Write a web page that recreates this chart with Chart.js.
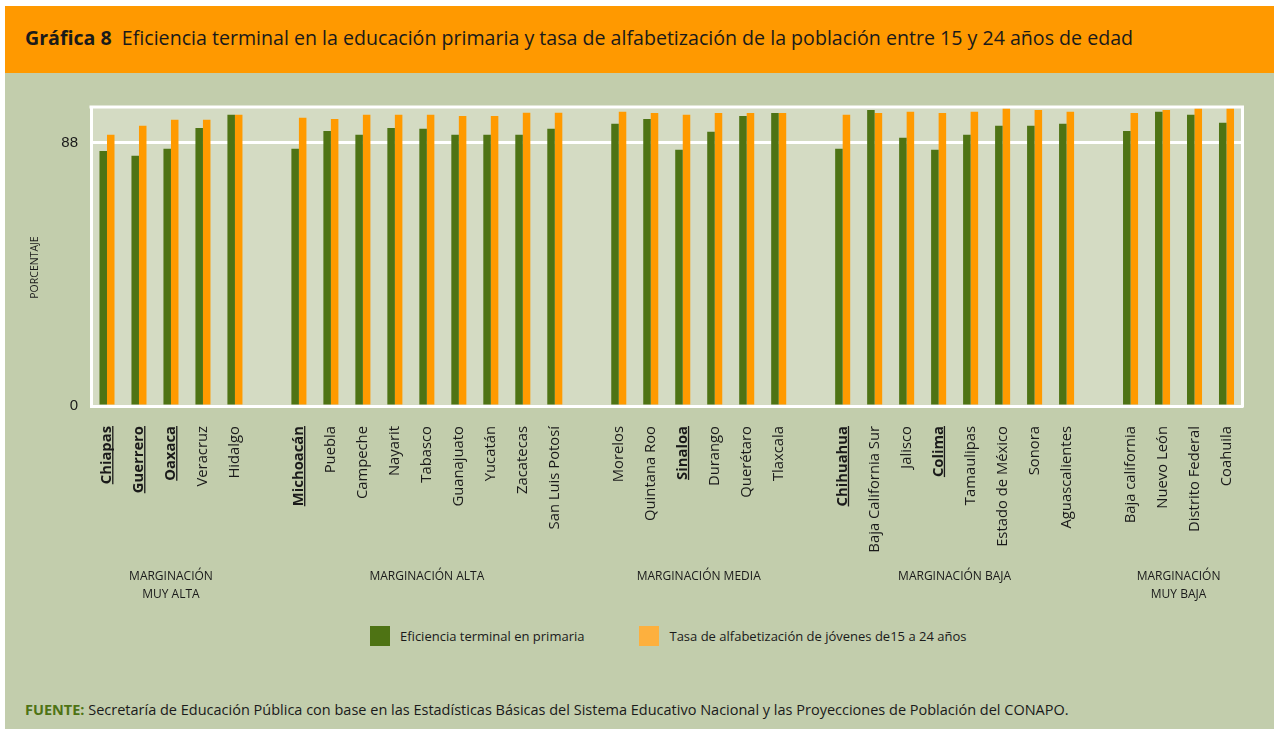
<!DOCTYPE html>
<html>
<head>
<meta charset="utf-8">
<script src="https://cdn.jsdelivr.net/npm/chart.js@4.4.1/dist/chart.umd.min.js"></script>
<style>
html,body{margin:0;padding:0;background:#fff;width:1274px;height:729px;overflow:hidden;font-family:'Open Sans',sans-serif;color:#1a1a1a;}
#bar{position:absolute;left:5px;top:6px;width:1269px;height:67px;background:#ff9900;}
#bar span{position:absolute;left:20px;top:20px;font-size:19.6px;white-space:nowrap;line-height:24px;}
#bar b{font-weight:bold;}
#panel{position:absolute;left:5px;top:73px;width:1269px;height:656px;background:#c2cdac;}
#wrap{position:absolute;left:5px;top:73px;width:1269px;height:540px;}
#legend{position:absolute;top:626px;left:370px;height:20px;white-space:nowrap;font-size:13px;}
#legend .it{display:inline-block;position:relative;height:20px;line-height:20px;vertical-align:top;}
#legend .sw{display:inline-block;width:20px;height:20px;vertical-align:top;margin-right:10px;}
#src{position:absolute;left:25px;top:700px;font-size:14.5px;white-space:nowrap;}
#src b{color:#4e7314;}
</style>
</head>
<body>
<div id="bar"><span><b>Gráfica 8</b>&nbsp; Eficiencia terminal en la educación primaria y tasa de alfabetización de la población entre 15 y 24 años de edad</span></div>
<div id="panel"></div>
<div id="wrap"><canvas id="c" width="1269" height="540"></canvas></div>
<div id="legend"></div>
<div id="src"><b>FUENTE:</b> Secretaría de Educación Pública con base en las Estadísticas Básicas del Sistema Educativo Nacional y las Proyecciones de Población del CONAPO.</div>
<script>
// ---- data ----
const states = ['Chiapas','Guerrero','Oaxaca','Veracruz','Hidalgo','',
  'Michoacán','Puebla','Campeche','Nayarit','Tabasco','Guanajuato','Yucatán','Zacatecas','San Luis Potosí','',
  'Morelos','Quintana Roo','Sinaloa','Durango','Querétaro','Tlaxcala','',
  'Chihuahua','Baja California Sur','Jalisco','Colima','Tamaulipas','Estado de México','Sonora','Aguascalientes','',
  'Baja california','Nuevo León','Distrito Federal','Coahuila'];
const eficienciaTerminal = [85.3,83.7,86.0,93.0,97.4,null,
  86.0,92.0,90.7,93.0,92.7,90.7,90.7,90.7,92.7,null,
  94.4,96.0,85.7,91.7,97.0,98.0,null,
  86.0,99.0,89.7,85.7,90.7,93.7,93.7,94.4,null,
  92.0,98.4,97.4,94.7];
const tasaAlfabetizacion = [90.7,93.7,95.7,95.7,97.4,null,
  96.4,96.0,97.4,97.4,97.4,97.0,97.0,98.1,98.1,null,
  98.4,98.0,97.4,98.0,98.0,98.0,null,
  97.4,98.0,98.4,98.0,98.4,99.4,99.0,98.4,null,
  98.0,99.0,99.4,99.4];
const underlinedStates = ['Chiapas','Guerrero','Oaxaca','Michoacán','Sinaloa','Chihuahua','Colima'];
const groupLabels = [['MARGINACIÓN','MUY ALTA'],['MARGINACIÓN ALTA'],['MARGINACIÓN MEDIA'],['MARGINACIÓN BAJA'],['MARGINACIÓN','MUY BAJA']];
const seriesNames = ['Eficiencia terminal en primaria','Tasa de alfabetización de jóvenes de15 a 24 años'];
const yTickValues = [0, 88];
const yAxisTitle = 'PORCENTAJE';

const barColors = ['#4e7314','#ff9a00'];
const legendColors = ['#4e7314','#fdb03e'];
const plotBg = '#d4dbc3';

// group ranges from blank separators
const groups = [];
let start = 0;
states.forEach((s,i)=>{ if(s===''){groups.push([start,i-1]); start=i+1;} });
groups.push([start, states.length-1]);

const framePlugin = {
  id:'frame',
  beforeDraw(chart){
    const {ctx, chartArea:a} = chart;
    ctx.save(); ctx.fillStyle = plotBg;
    ctx.fillRect(a.left, a.top, a.right-a.left, a.bottom-a.top);
    ctx.restore();
  },
  beforeDatasetsDraw(chart){
    const {ctx, chartArea:a} = chart;
    ctx.save(); ctx.strokeStyle='#fff'; ctx.lineWidth=3;
    ctx.beginPath();
    ctx.moveTo(a.left-1.5, a.top); ctx.lineTo(a.right, a.top); ctx.lineTo(a.right, a.bottom+1.5);
    ctx.stroke(); ctx.restore();
  },
  afterDraw(chart){
    const ctx = chart.ctx, xs = chart.scales.x, a = chart.chartArea;
    ctx.save();
    // underline bold state labels
    const items = xs.getLabelItems();
    ctx.strokeStyle = '#1a1a1a'; ctx.lineWidth = 1.3;
    items.forEach(it=>{
      if(!underlinedStates.includes(it.label)) return;
      ctx.font = it.font.string;
      const w = ctx.measureText(it.label).width;
      const [tx,ty] = it.options.translation;
      const ux = tx + it.textOffset + 5.8;
      ctx.beginPath(); ctx.moveTo(ux, ty); ctx.lineTo(ux, ty + w); ctx.stroke();
    });
    // group labels
    ctx.fillStyle = '#1a1a1a';
    ctx.font = "12px 'Open Sans'";
    ctx.textAlign = 'center'; ctx.textBaseline = 'middle';
    groups.forEach((g,k)=>{
      const cx = (xs.getPixelForValue(g[0]) + xs.getPixelForValue(g[1]))/2;
      groupLabels[k].forEach((line,j)=> ctx.fillText(line, cx, 504 + j*18));
    });
    // y axis title
    ctx.translate(30, (a.top + a.bottom)/2 + 11);
    ctx.rotate(-Math.PI/2);
    ctx.font = "10.5px 'Open Sans'";
    ctx.fillText(yAxisTitle, 0, 0);
    ctx.restore();
  }
};

const chart = new Chart(document.getElementById('c'), {
  type:'bar',
  data:{
    labels: states,
    datasets:[
      {label:seriesNames[0], data:eficienciaTerminal, backgroundColor:barColors[0], categoryPercentage:0.47, barPercentage:1},
      {label:seriesNames[1], data:tasaAlfabetizacion, backgroundColor:barColors[1], categoryPercentage:0.47, barPercentage:1}
    ]
  },
  options:{
    responsive:false, animation:false, devicePixelRatio:1,
    layout:{padding:{top:34,right:31.5,left:0,bottom:0}},
    plugins:{legend:{display:false}, tooltip:{enabled:false}},
    scales:{
      x:{
        grid:{display:false},
        border:{color:'#fff', width:3},
        ticks:{
          autoSkip:false, minRotation:90, maxRotation:90, padding:12, color:'#1a1a1a',
          font:(c)=>({family:"'Open Sans'", size:14.8, weight: underlinedStates.includes(states[c.index]) ? 'bold' : 'normal'})
        },
        afterFit:(s)=>{ s.height = 207; }
      },
      y:{
        min:0, max:100,
        afterBuildTicks:(s)=>{ s.ticks = yTickValues.map(v=>({value:v})); },
        grid:{color:'#fff', lineWidth:3, drawTicks:false},
        border:{color:'#fff', width:3},
        ticks:{color:'#1a1a1a', padding:13, font:{family:"'Liberation Sans'", size:15}},
        afterFit:(s)=>{ s.width = 86; }
      }
    }
  },
  plugins:[framePlugin]
});

// HTML legend built from datasets
const lg = document.getElementById('legend');
chart.data.datasets.forEach((ds,i)=>{
  const it = document.createElement('span');
  it.className = 'it';
  it.style.marginRight = i===0 ? '55px' : '0';
  it.innerHTML = '<span class="sw" style="background:'+legendColors[i]+'"></span>'+ds.label;
  lg.appendChild(it);
});
</script>
</body>
</html>
